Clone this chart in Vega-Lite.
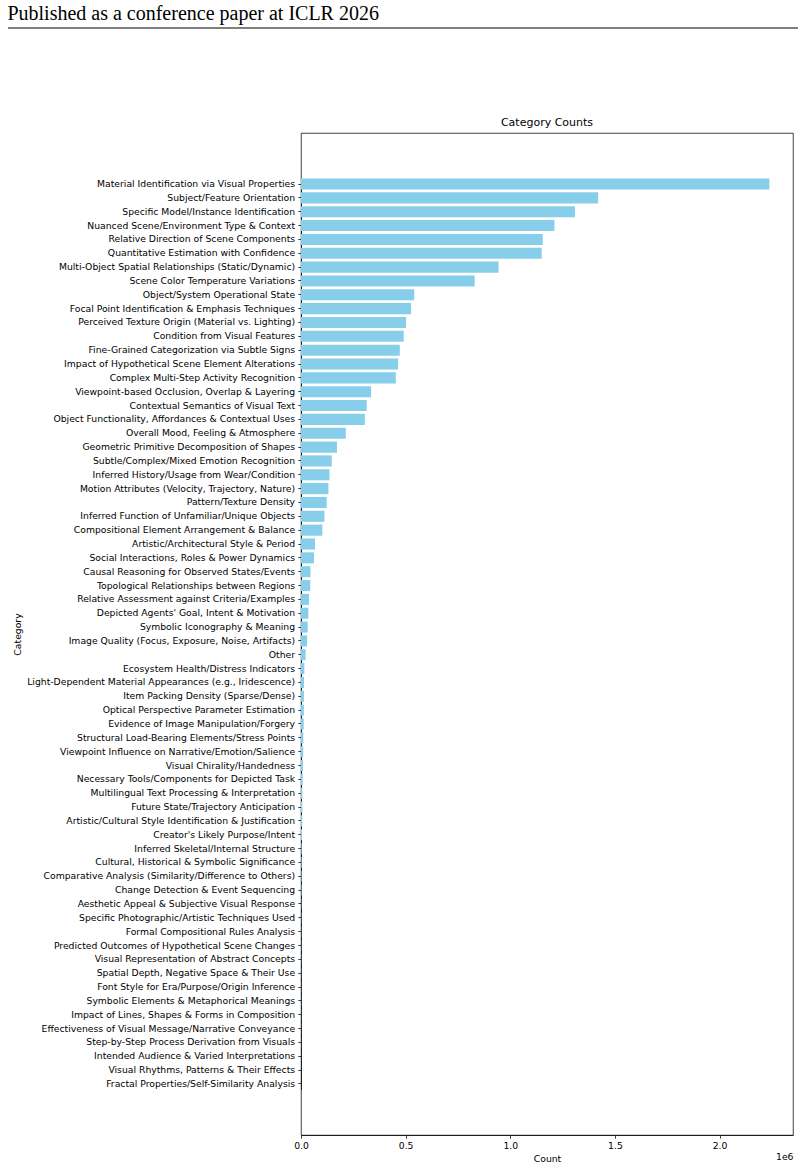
{
  "$schema": "https://vega.github.io/schema/vega-lite/v6.json",
  "background": "white",
  "padding": {"left": 7, "top": 4, "right": 7, "bottom": 2},
  "columns": 1,
  "spacing": 87,
  "config": {
    "view": {"stroke": "#000", "strokeWidth": 0.75},
    "font": "DejaVu Sans"
  },
  "concat": [
    {
      "width": 497,
      "height": 1,
      "view": {"stroke": null},
      "title": {"text": "Published as a conference paper at ICLR 2026", "font": "Liberation Serif", "fontSize": 20, "fontWeight": "normal", "anchor": "start", "frame": "bounds", "color": "#000", "offset": 3},
      "data": {"values": [{"a": 0}]},
      "mark": {"type": "rule", "color": "#000", "strokeWidth": 1.2},
      "encoding": {
        "x": {"datum": 0, "type": "quantitative", "scale": {"domain": [0, 1], "range": [-293, 497]}, "axis": null},
        "x2": {"datum": 1},
        "y": {"datum": 0, "type": "quantitative", "scale": {"domain": [0, 1]}, "axis": null}
      }
    },
    {
      "width": 492,
      "height": 1002,
      "title": {"text": "Category Counts", "font": "DejaVu Sans", "fontSize": 11, "fontWeight": "normal", "color": "#000", "offset": 5, "frame": "group"},
      "data": {"values": [
        {"category": "Material Identification via Visual Properties", "count": 2238000},
        {"category": "Subject/Feature Orientation", "count": 1420000},
        {"category": "Specific Model/Instance Identification", "count": 1309000},
        {"category": "Nuanced Scene/Environment Type & Context", "count": 1211000},
        {"category": "Relative Direction of Scene Components", "count": 1155000},
        {"category": "Quantitative Estimation with Confidence", "count": 1150000},
        {"category": "Multi-Object Spatial Relationships (Static/Dynamic)", "count": 944000},
        {"category": "Scene Color Temperature Variations", "count": 830000},
        {"category": "Object/System Operational State", "count": 541000},
        {"category": "Focal Point Identification & Emphasis Techniques", "count": 526000},
        {"category": "Perceived Texture Origin (Material vs. Lighting)", "count": 502000},
        {"category": "Condition from Visual Features", "count": 491000},
        {"category": "Fine-Grained Categorization via Subtle Signs", "count": 472000},
        {"category": "Impact of Hypothetical Scene Element Alterations", "count": 464000},
        {"category": "Complex Multi-Step Activity Recognition", "count": 453000},
        {"category": "Viewpoint-based Occlusion, Overlap & Layering", "count": 335000},
        {"category": "Contextual Semantics of Visual Text", "count": 314000},
        {"category": "Object Functionality, Affordances & Contextual Uses", "count": 305000},
        {"category": "Overall Mood, Feeling & Atmosphere", "count": 214000},
        {"category": "Geometric Primitive Decomposition of Shapes", "count": 172000},
        {"category": "Subtle/Complex/Mixed Emotion Recognition", "count": 147000},
        {"category": "Inferred History/Usage from Wear/Condition", "count": 136000},
        {"category": "Motion Attributes (Velocity, Trajectory, Nature)", "count": 131000},
        {"category": "Pattern/Texture Density", "count": 123000},
        {"category": "Inferred Function of Unfamiliar/Unique Objects", "count": 112000},
        {"category": "Compositional Element Arrangement & Balance", "count": 102000},
        {"category": "Artistic/Architectural Style & Period", "count": 67000},
        {"category": "Social Interactions, Roles & Power Dynamics", "count": 62000},
        {"category": "Causal Reasoning for Observed States/Events", "count": 45000},
        {"category": "Topological Relationships between Regions", "count": 44000},
        {"category": "Relative Assessment against Criteria/Examples", "count": 38000},
        {"category": "Depicted Agents' Goal, Intent & Motivation", "count": 35000},
        {"category": "Symbolic Iconography & Meaning", "count": 32000},
        {"category": "Image Quality (Focus, Exposure, Noise, Artifacts)", "count": 29000},
        {"category": "Other", "count": 22000},
        {"category": "Ecosystem Health/Distress Indicators", "count": 16000},
        {"category": "Light-Dependent Material Appearances (e.g., Iridescence)", "count": 14500},
        {"category": "Item Packing Density (Sparse/Dense)", "count": 14000},
        {"category": "Optical Perspective Parameter Estimation", "count": 13500},
        {"category": "Evidence of Image Manipulation/Forgery", "count": 13000},
        {"category": "Structural Load-Bearing Elements/Stress Points", "count": 11000},
        {"category": "Viewpoint Influence on Narrative/Emotion/Salience", "count": 10500},
        {"category": "Visual Chirality/Handedness", "count": 9600},
        {"category": "Necessary Tools/Components for Depicted Task", "count": 8000},
        {"category": "Multilingual Text Processing & Interpretation", "count": 6500},
        {"category": "Future State/Trajectory Anticipation", "count": 6300},
        {"category": "Artistic/Cultural Style Identification & Justification", "count": 6000},
        {"category": "Creator's Likely Purpose/Intent", "count": 4800},
        {"category": "Inferred Skeletal/Internal Structure", "count": 3200},
        {"category": "Cultural, Historical & Symbolic Significance", "count": 3000},
        {"category": "Comparative Analysis (Similarity/Difference to Others)", "count": 2800},
        {"category": "Change Detection & Event Sequencing", "count": 2600},
        {"category": "Aesthetic Appeal & Subjective Visual Response", "count": 1500},
        {"category": "Specific Photographic/Artistic Techniques Used", "count": 1400},
        {"category": "Formal Compositional Rules Analysis", "count": 1300},
        {"category": "Predicted Outcomes of Hypothetical Scene Changes", "count": 1200},
        {"category": "Visual Representation of Abstract Concepts", "count": 1100},
        {"category": "Spatial Depth, Negative Space & Their Use", "count": 1000},
        {"category": "Font Style for Era/Purpose/Origin Inference", "count": 900},
        {"category": "Symbolic Elements & Metaphorical Meanings", "count": 800},
        {"category": "Impact of Lines, Shapes & Forms in Composition", "count": 700},
        {"category": "Effectiveness of Visual Message/Narrative Conveyance", "count": 600},
        {"category": "Step-by-Step Process Derivation from Visuals", "count": 500},
        {"category": "Intended Audience & Varied Interpretations", "count": 400},
        {"category": "Visual Rhythms, Patterns & Their Effects", "count": 300},
        {"category": "Fractal Properties/Self-Similarity Analysis", "count": 200}
      ]},
      "layer": [
        {
          "mark": {"type": "bar", "color": "#87CEEB"},
          "encoding": {
            "y": {
              "field": "category", "type": "nominal", "sort": null,
              "scale": {"paddingInner": 0.2, "paddingOuter": 0, "range": [45.5, 956.5]},
              "axis": {
                "title": "Category", "titleFont": "DejaVu Sans", "titleFontSize": 9.25, "titleFontWeight": "normal", "titleColor": "#000", "titlePadding": 4,
                "labelFont": "DejaVu Sans", "labelFontSize": 9.25, "labelColor": "#000", "labelLimit": 400, "labelPadding": 3.2,
                "maxExtent": 400,
                "tickSize": 3.2, "tickColor": "#000", "tickWidth": 0.75, "domainColor": "#000", "domainWidth": 0.75
              }
            },
            "x": {
              "field": "count", "type": "quantitative",
              "scale": {"domain": [0, 2351000], "nice": false, "zero": true},
              "axis": {
                "title": "Count", "titleFont": "DejaVu Sans", "titleFontSize": 9.25, "titleFontWeight": "normal", "titleColor": "#000", "titlePadding": 3.5,
                "values": [0, 500000, 1000000, 1500000, 2000000],
                "labelExpr": "format(datum.value / 1000000, '.1f')",
                "labelFont": "DejaVu Sans", "labelFontSize": 9.25, "labelColor": "#000", "labelPadding": 3.2, "labelFlush": false,
                "tickSize": 3.2, "tickColor": "#000", "tickWidth": 0.75, "domainColor": "#000", "domainWidth": 0.75, "grid": false
              }
            }
          }
        },
        {
          "mark": {"type": "point", "opacity": 0},
          "encoding": {
            "x": {
              "field": "count", "type": "quantitative",
              "axis": {
                "orient": "bottom",
                "title": "1e6", "titleFont": "DejaVu Sans", "titleFontSize": 9.25, "titleFontWeight": "normal", "titleColor": "#000",
                "titleAnchor": "end", "titleAlign": "right", "titleY": 21, "titleBaseline": "middle",
                "labels": false, "ticks": false, "domain": false, "grid": false
              }
            }
          }
        }
      ],
      "resolve": {"axis": {"x": "independent"}}
    }
  ]
}
